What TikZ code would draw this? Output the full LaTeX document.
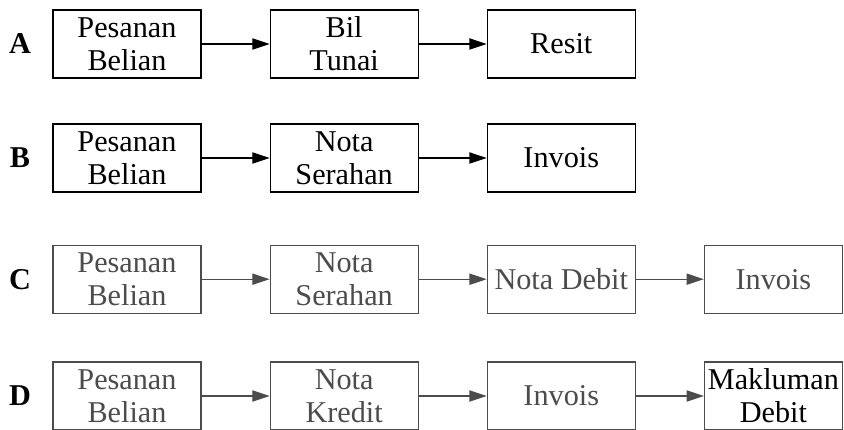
\documentclass[tikz,border=0pt]{standalone}
\usepackage{fontspec}
\setmainfont{Liberation Serif}
\usetikzlibrary{arrows.meta,positioning}

\definecolor{fade}{gray}{0.3}

\begin{document}
\begin{tikzpicture}[
    > = {Triangle[length=4.3mm, width=2.8mm]}, % arrow head style
    node distance = 1.7cm, % gap between boxes
    thick % line style
    ]

    \tikzset{
    box/.style = {
    draw,
    minimum width = 3.7cm,
    minimum height = 1.7cm,
    inner sep = 1pt,
    align = center,
    font = \fontsize{21.5}{23.5}\selectfont
    },
    lastbox/.style = {box, minimum width = 3.45cm},
    tag/.style = {font = \fontsize{21.5}{23.5}\selectfont\bfseries},
    faded/.style = {draw = fade, text = fade}
    }

    \useasboundingbox (0,0) rectangle (21.1,-10.75);

    % A
    \node[box] (a1) at (3.175,-1.1) {Pesanan\\Belian};
    \node[box] (a2) [right=of a1] {Bil\\Tunai};
    \node[box] (a3) [right=of a2] {Resit};
    \node[tag] (la) at (0.5,-1.1) {A};
    \draw[->] (a1) -- (a2);
    \draw[->] (a2) -- (a3);

    % B
    \node[box] (b1) at (3.175,-3.95) {Pesanan\\Belian};
    \node[box] (b2) [right=of b1] {Nota\\Serahan};
    \node[box] (b3) [right=of b2] {Invois};
    \node[tag] (lb) at (0.5,-3.95) {B};
    \draw[->] (b1) -- (b2);
    \draw[->] (b2) -- (b3);

    % C
    \begin{scope}[every node/.append style = {faded}, draw = fade]
    \node[box] (c1) at (3.175,-6.98) {Pesanan\\Belian};
    \node[box] (c2) [right=of c1] {Nota\\Serahan};
    \node[box] (c3) [right=of c2] {Nota Debit};
    \node[lastbox] (c4) [right=of c3] {Invois};
    \draw[->] (c1) -- (c2);
    \draw[->] (c2) -- (c3);
    \draw[->] (c3) -- (c4);
    \end{scope}
    \node[tag] (lc) at (0.5,-6.98) {C};

    % D
    \begin{scope}[every node/.append style = {faded}, draw = fade]
    \node[box] (d1) at (3.175,-9.9) {Pesanan\\Belian};
    \node[box] (d2) [right=of d1] {Nota\\Kredit};
    \node[box] (d3) [right=of d2] {Invois};
    \node[lastbox, text = black] (d4) [right=of d3] {Makluman\\Debit};
    \draw[->] (d1) -- (d2);
    \draw[->] (d2) -- (d3);
    \draw[->] (d3) -- (d4);
    \end{scope}
    \node[tag] (ld) at (0.5,-9.9) {D};

\end{tikzpicture}
\end{document}
